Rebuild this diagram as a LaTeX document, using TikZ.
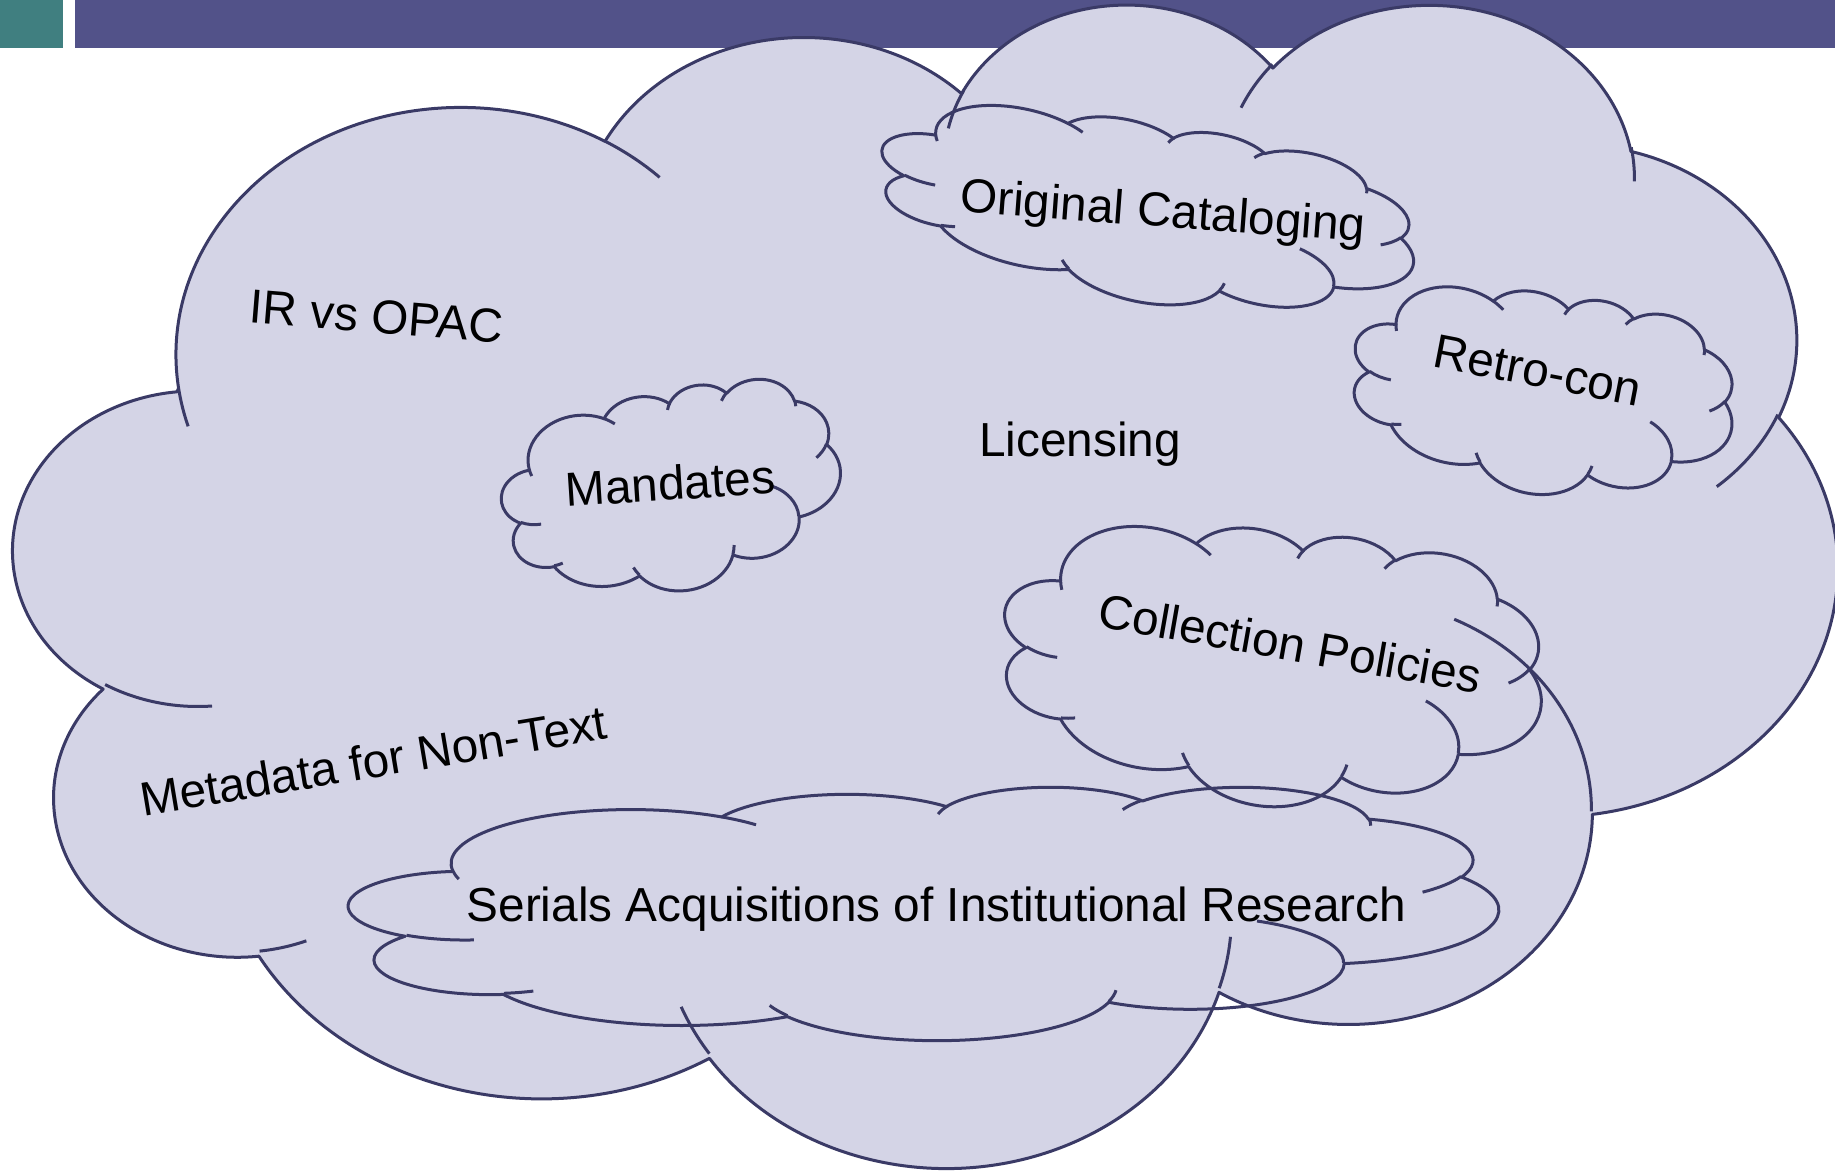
\documentclass[tikz,border=0pt]{standalone}
\usepackage{fontspec}
\setmainfont{Liberation Sans}

\definecolor{barteal}{RGB}{64,127,128}
\definecolor{barblue}{RGB}{82,82,137}
\definecolor{cloudfill}{RGB}{212,212,230}
\definecolor{cloudline}{RGB}{58,58,102}

\tikzset{
	cloud edge/.style = {draw = cloudline, line width = 1.2pt, line join = round},
	cloud body/.style = {cloud edge, fill = cloudfill},
	topic/.style = {anchor = base, inner sep = 0pt, font = \fontsize{19.1}{23}\selectfont},
	ooarc/.style = {start angle = \arcst, end angle = \arcen, x radius = \arcrx pt, y radius = \arcry pt}
}

% lobe of the office cloud path: radii (hundredths), start angle, sweep
\newcommand\lobe[4]{%
	\pgfmathsetmacro\arcst{-atan2(#1*sin(#3),#2*cos(#3))}%
	\pgfmathsetmacro\arcen{-atan2(#1*sin(#3+#4),#2*cos(#3+#4))}%
	\ifdim\arcen pt>\arcst pt\pgfmathsetmacro\arcen{\arcen-360}\fi
	\pgfmathsetmacro\arcrx{#1*\cldw*0.4}%
	\pgfmathsetmacro\arcry{#2*\cldh*0.4}%
}

% style, centre x, centre y, width, height, rotation
\newcommand\cloudshape[6]{%
	\pgfmathsetmacro\cldw{#4/432}%
	\pgfmathsetmacro\cldh{#5/432}%
	\begin{scope}[shift = {(#2,#3)}, rotate = #6]
		\path [#1] ({(39-216)*\cldw},{(143.7-216)*\cldh})
			\pgfextra{\lobe{67.53}{91.90}{-190.4875}{123.7805}} arc [ooarc]
			\pgfextra{\lobe{53.33}{72.67}{-144.1024}{89.9452}} arc [ooarc]
			\pgfextra{\lobe{43.65}{59.45}{-145.8079}{99.7230}} arc [ooarc]
			\pgfextra{\lobe{48.57}{65.95}{-130.9861}{117.2417}} arc [ooarc]
			\pgfextra{\lobe{53.33}{72.73}{-78.7089}{109.0269}} arc [ooarc]
			\pgfextra{\lobe{67.75}{92.20}{-46.2673}{130.2690}} arc [ooarc]
			\pgfextra{\lobe{57.85}{78.67}{0.6250}{114.0333}} arc [ooarc]
			\pgfextra{\lobe{67.52}{92.15}{22.4516}{115.1726}} arc [ooarc]
			\pgfextra{\lobe{77.20}{105.43}{66.2426}{75.7110}} arc [ooarc]
			\pgfextra{\lobe{43.60}{59.18}{-274.9421}{146.7356}} arc [ooarc]
			\pgfextra{\lobe{43.45}{59.45}{-246.8285}{152.5189}} arc [ooarc]
			-- cycle;
		\path [cloud edge]
			({(46.93-216)*\cldw},{(261.77-216)*\cldh}) \pgfextra{\lobe{43.45}{59.45}{86.742}{26.4295}} arc [ooarc]
			({(69.28-216)*\cldw},{(348.99-216)*\cldh}) \pgfextra{\lobe{43.60}{59.18}{73.6105}{11.4475}} arc [ooarc]
			({(164.78-216)*\cldw},{(390.90-216)*\cldh}) \pgfextra{\lobe{67.52}{92.15}{137.6242}{14.0811}} arc [ooarc]
			({(288.27-216)*\cldw},{(347.51-216)*\cldh}) \pgfextra{\lobe{67.52}{92.15}{6.4533}{15.9984}} arc [ooarc]
			({(341.29-216)*\cldw},{(229.54-216)*\cldh}) \pgfextra{\lobe{57.85}{78.67}{-70.2924}{70.9174}} arc [ooarc]
			({(417.98-216)*\cldw},{(153.54-216)*\cldh}) \pgfextra{\lobe{53.33}{72.73}{30.3180}{27.7515}} arc [ooarc]
			({(383.24-216)*\cldw},{(54.26-216)*\cldh}) \pgfextra{\lobe{48.57}{65.95}{-13.7443}{14.8589}} arc [ooarc]
			({(290.78-216)*\cldw},{(39.52-216)*\cldh}) \pgfextra{\lobe{48.57}{65.95}{-149.1815}{18.1954}} arc [ooarc]
			({(221.41-216)*\cldw},{(47.20-216)*\cldh}) \pgfextra{\lobe{43.65}{59.45}{-163.4943}{17.6864}} arc [ooarc]
			({(140.00-216)*\cldw},{(51.92-216)*\cldh}) \pgfextra{\lobe{67.53}{91.90}{-66.7070}{12.3194}} arc [ooarc]
			({(41.27-216)*\cldw},{(157.89-216)*\cldh}) \pgfextra{\lobe{67.53}{91.90}{157.6544}{11.8582}} arc [ooarc];
	\end{scope}}

\begin{document}
\begin{tikzpicture}[x = 0.4pt, y = -0.4pt]
		\useasboundingbox (0,0) rectangle (1835,1171);
		\clip (0,0) rectangle (1835,1171);
		% title bar
		\fill [barteal] (0,0) rectangle (63,48);
		\fill [barblue] (75,0) rectangle (1835,48);
		% big cloud and the clouds inside it
		\cloudshape{cloud body}{925.5}{582.8}{1823}{1163}{0}
		\cloudshape{cloud edge}{1147}{210.5}{543}{181}{-12}
		\cloudshape{cloud edge}{1542.6}{391.4}{385}{204}{-12.5}
		\cloudshape{cloud edge}{671.3}{489.3}{340}{203}{5.8}
		\cloudshape{cloud edge}{1272}{665}{544}{280}{-9.97}
		\cloudshape{cloud edge}{923.7}{913.1}{1149.4}{253.3}{0}
		% topics
		\node [topic, rotate = -4.65](ir_opac) at (375,333) {IR vs OPAC};
		\node [topic, rotate = 9.46](metadata) at (376,777.5) {Metadata for Non-Text};
		\node [topic](licensing) at (1080,456.7) {Licensing};
		\node [topic, rotate = 3.76](mandates) at (671.3,500) {Mandates};
		\node [topic, rotate = -4.27](original) at (1161.7,226.7) {Original Cataloging};
		\node [topic, rotate = -10.9](retro_con) at (1534.7,386.7) {Retro-con};
		\node [topic, rotate = -9.97](collection) at (1287,660) {Collection Policies};
		\node [topic](serials) at (936.4,921.7) {Serials Acquisitions of Institutional Research};
\end{tikzpicture}
\end{document}
